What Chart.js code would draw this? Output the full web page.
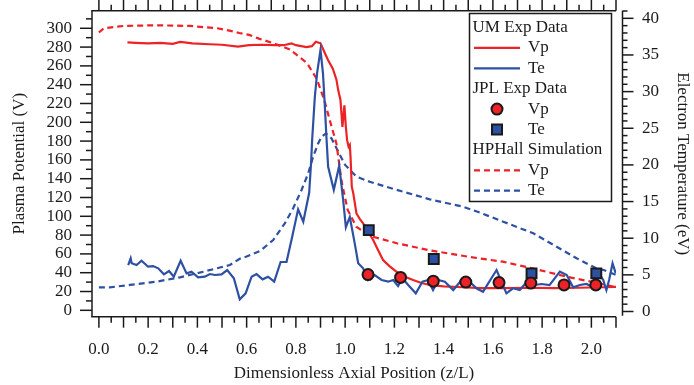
<!DOCTYPE html>
<html>
<head>
<meta charset="utf-8">
<script src="https://cdn.jsdelivr.net/npm/chart.js@4.4.1/dist/chart.umd.min.js"></script>
<style>
html,body{margin:0;padding:0;background:#fff;}
canvas{display:block;}
</style>
</head>
<body>
<canvas id="c" width="694" height="385"></canvas>
<script>
// ---------- DATA ----------
// UM experimental plasma potential (V)
const umVpZ = [0.116,0.15,0.2,0.25,0.3,0.33,0.38,0.45,0.5,0.565,0.61,0.66,0.71,0.75,0.782,0.8,0.843,0.865,0.881,0.9,0.918,0.931,0.95,0.965,0.972,0.981,0.989,0.997,1.003,1.008,1.014,1.019,1.022,1.027,1.033,1.046,1.06,1.073,1.09,1.114,1.13,1.154,1.18,1.209,1.24,1.276,1.31,1.344,1.4,1.479,1.55,1.65,1.75,1.85,1.95,2.05,2.1];
const umVp  = [285,284.5,284,284.5,283.5,285.5,284,283,282.5,280.5,282,282.5,282,282,284,282,280,281,285.7,284,273.4,266,257,245,234,223.7,195,218,195,181,174,176,163,131.5,124.5,103,97,92.6,85,74.8,66,53.5,47,41,36,32.2,29,26.9,25.5,24.5,23.5,23.5,24,23.5,24,24.5,25];
// UM experimental electron temperature (eV)
const umTeZ = [0.119,0.129,0.133,0.153,0.173,0.2,0.22,0.241,0.264,0.285,0.304,0.332,0.356,0.376,0.403,0.43,0.451,0.471,0.498,0.521,0.548,0.572,0.596,0.62,0.64,0.665,0.687,0.712,0.738,0.762,0.785,0.809,0.83,0.854,0.862,0.866,0.877,0.886,0.9,0.91,0.917,0.924,0.931,0.954,0.976,0.992,1.003,1.019,1.039,1.053,1.073,1.093,1.12,1.148,1.175,1.195,1.215,1.233,1.256,1.287,1.314,1.337,1.357,1.378,1.405,1.439,1.473,1.506,1.533,1.56,1.615,1.655,1.682,1.709,1.739,1.77,1.797,1.83,1.872,1.9,1.926,1.953,1.98,2.007,2.027,2.048,2.061,2.072,2.086,2.099];
const umTe  = [6.34,7.26,6.58,6.34,6.93,6.11,6.2,5.89,5.07,5.52,4.75,6.93,5.2,5.43,4.66,4.75,5.11,4.98,5.07,5.66,4.53,1.66,2.48,4.75,5.11,4.39,4.75,4.07,6.75,6.75,10.2,13.94,12.25,16.2,20.5,23.4,29.3,32.5,35.7,32.5,28.4,23.8,19.75,16.6,19.9,15.2,11.5,12.9,9.3,6.58,5.89,4.3,4.98,4.3,4.07,4.3,3.48,4.53,3.62,2.48,4.07,4.3,2.93,4.3,4.07,2.93,4.3,4.07,3.17,2.7,5.66,2.48,3.17,2.93,4.07,3.62,3.75,3.6,5.43,4.98,3.3,3.62,3.75,3.3,5.43,4.3,2.93,4.3,6.58,5.2];
// JPL experimental data
const jplVpZ = [1.093,1.225,1.358,1.49,1.625,1.754,1.889,2.018];
const jplVp  = [38,35,31,30,29.5,29,27,27];
const jplTeZ = [1.096,1.36,1.757,2.02];
const jplTe  = [11.1,7.16,5.2,5.2];
// HPHall simulation
const simVpZ = [0,0.02,0.1,0.23,0.37,0.48,0.53,0.57,0.61,0.65,0.71,0.775,0.845,0.885,0.915,0.94,0.965,0.985,1.01,1.045,1.075,1.11,1.21,1.34,1.5,1.64,1.76,1.9,2.02,2.1];
const simVp  = [295.5,300,302.5,303.2,302.5,300,297.5,295,293,289,284,277.5,263,246,224,200,177,138,107,89,83.5,78.5,71.3,64,57,51.7,44.7,35.7,29.4,24.5];
const simTeZ = [0,0.045,0.126,0.234,0.329,0.424,0.532,0.572,0.6,0.654,0.708,0.755,0.789,0.823,0.85,0.87,0.89,0.904,0.922,0.945,0.972,1.0,1.046,1.1,1.209,1.344,1.479,1.547,1.642,1.764,1.859,1.94,2.02,2.05,2.1];
const simTe  = [3.3,3.3,3.62,4.07,4.66,5.43,6.34,7.2,7.5,8.25,9.75,12.03,14.08,16.58,18.85,21.1,22.9,23.85,24.3,23.6,21.8,20.0,18.4,17.7,16.6,15.3,14.3,13.5,12.25,10.67,8.84,7.26,5.89,5.66,5.0];
// Tick labels
const xTickVals  = [0,0.2,0.4,0.6,0.8,1.0,1.2,1.4,1.6,1.8,2.0];
const yLTickVals = [0,20,40,60,80,100,120,140,160,180,200,220,240,260,280,300];
const yRTickVals = [0,5,10,15,20,25,30,35,40];

// ---------- STYLE ----------
const RED = '#ec2227', BLUE = '#2e50a2', INK = '#1a1a1a';
const FONT = "'Liberation Serif', 'Times New Roman', serif";
Chart.defaults.font.family = FONT;
Chart.defaults.font.size = 17;
Chart.defaults.color = INK;

const pts = (xs, ys) => xs.map((x, i) => ({x, y: ys[i]}));

const axesPlugin = {
  id: 'axesFrame',
  afterDatasetsDraw(chart) {
    const {ctx, chartArea: ca, scales} = chart;
    const xs = scales.x, yl = scales.y, yr = scales.y2;
    const rx = ca.right + 6.5;
    ctx.save();
    ctx.strokeStyle = INK; ctx.lineWidth = 1.5;
    const ln = (a, b, c, d) => { ctx.beginPath(); ctx.moveTo(a, b); ctx.lineTo(c, d); ctx.stroke(); };
    ln(ca.left, ca.top, ca.left, ca.bottom);
    ln(ca.left - 0.75, ca.bottom, ca.right, ca.bottom);
    ln(ca.left - 0.75, ca.top, ca.right, ca.top);
    ln(rx, ca.top, rx, ca.bottom - 1);
    for (let i = 0; i <= 42; i++) {
      const px = xs.getPixelForValue(i * 0.05);
      const L = (i % 2 === 0) ? 11 : 6;
      ln(px, ca.bottom, px, ca.bottom + L);
      ln(px, ca.top, px, ca.top - L);
    }
    for (let v = 0; v <= 310; v += 10) {
      const py = yl.getPixelForValue(v);
      const L = (v % 20 === 0) ? 12 : 6;
      ln(ca.left, py, ca.left - L, py);
    }
    for (let v = 0; v <= 41; v += 1) {
      const py = yr.getPixelForValue(v);
      const L = (v % 5 === 0) ? 11 : 5;
      ln(rx, py, rx + L, py);
    }
    ctx.restore();
  }
};

const legendPlugin = {
  id: 'customLegend',
  afterDraw(chart) {
    const ctx = chart.ctx;
    const bx = 469.5, by = 13.5, bw = 142, bh = 188;
    ctx.save();
    ctx.fillStyle = '#fff';
    ctx.fillRect(bx, by, bw, bh);
    ctx.strokeStyle = INK; ctx.lineWidth = 1.5;
    ctx.strokeRect(bx, by, bw, bh);
    ctx.font = '17px ' + FONT;
    ctx.fillStyle = INK;
    ctx.textBaseline = 'middle';
    const rows = [
      {t: 'UM Exp Data', head: true},
      {t: 'Vp', kind: 'line', c: RED},
      {t: 'Te', kind: 'line', c: BLUE},
      {t: 'JPL Exp Data', head: true},
      {t: 'Vp', kind: 'circle', c: RED},
      {t: 'Te', kind: 'square', c: BLUE},
      {t: 'HPHall Simulation', head: true},
      {t: 'Vp', kind: 'dash', c: RED},
      {t: 'Te', kind: 'dash', c: BLUE}
    ];
    rows.forEach((r, i) => {
      const y = 27.5 + i * 20.4;
      ctx.fillStyle = INK;
      if (r.head) { ctx.fillText(r.t, 472.5, y); return; }
      ctx.fillText(r.t, 528, y);
      if (r.kind === 'line' || r.kind === 'dash') {
        ctx.strokeStyle = r.c; ctx.lineWidth = 2.2;
        ctx.setLineDash(r.kind === 'dash' ? [6, 4] : []);
        ctx.beginPath(); ctx.moveTo(474, y); ctx.lineTo(520, y); ctx.stroke();
        ctx.setLineDash([]);
      } else if (r.kind === 'circle') {
        ctx.beginPath(); ctx.arc(497, y, 5.5, 0, Math.PI * 2);
        ctx.fillStyle = r.c; ctx.fill();
        ctx.strokeStyle = INK; ctx.lineWidth = 2; ctx.stroke();
      } else if (r.kind === 'square') {
        ctx.fillStyle = r.c; ctx.fillRect(492, y - 5, 10, 10);
        ctx.strokeStyle = INK; ctx.lineWidth = 2; ctx.strokeRect(492, y - 5, 10, 10);
      }
    });
    ctx.restore();
  }
};

const lineDS = (label, xs, ys, color, dashed, axis, order) => ({
  label, data: pts(xs, ys), yAxisID: axis, showLine: true,
  borderColor: color, backgroundColor: color, borderWidth: 2.2,
  borderDash: dashed ? [6, 4] : [], pointRadius: 0, tension: 0, order
});

function fixV(w) { return s => { s.width = w; s.paddingTop = 0; s.paddingBottom = 0; }; }

new Chart(document.getElementById('c'), {
  type: 'scatter',
  data: {
    datasets: [
      {label: 'JPL Vp', data: pts(jplVpZ, jplVp), yAxisID: 'y', pointStyle: 'circle', pointRadius: 5.5,
       backgroundColor: RED, borderColor: INK, borderWidth: 2, order: 0},
      {label: 'JPL Te', data: pts(jplTeZ, jplTe), yAxisID: 'y2', pointStyle: 'rect', pointRadius: 7,
       backgroundColor: BLUE, borderColor: INK, borderWidth: 2, order: 0},
      lineDS('UM Vp', umVpZ, umVp, RED, false, 'y', 2),
      lineDS('UM Te', umTeZ, umTe, BLUE, false, 'y2', 1),
      lineDS('Sim Vp', simVpZ, simVp, RED, true, 'y', 3),
      lineDS('Sim Te', simTeZ, simTe, BLUE, true, 'y2', 4)
    ]
  },
  options: {
    responsive: false,
    animation: false,
    layout: {padding: {top: 10.7, left: 0, right: 0, bottom: 0}},
    plugins: {legend: {display: false}, tooltip: {enabled: false}},
    scales: {
      x: {
        type: 'linear', position: 'bottom', min: -0.028, max: 2.1,
        afterFit(s) { s.height = 68.3; s.paddingLeft = 0; s.paddingRight = 0; },
        afterBuildTicks(s) { s.ticks = xTickVals.map(v => ({value: v})); },
        ticks: {callback: v => Number(v).toFixed(1), padding: 15, autoSkip: false, maxRotation: 0, color: INK},
        grid: {display: false}, border: {display: false},
        title: {display: true, text: 'Dimensionless Axial Position (z/L)', color: INK, padding: {top: 0, bottom: 1}}
      },
      y: {
        type: 'linear', position: 'left', min: -6.8, max: 318.7,
        afterFit: fixV(92),
        afterBuildTicks(s) { s.ticks = yLTickVals.map(v => ({value: v})); },
        ticks: {callback: v => String(v), padding: 12, autoSkip: false, color: INK},
        grid: {display: false}, border: {display: false},
        title: {display: true, text: 'Plasma Potential (V)', color: INK, padding: {top: 9, bottom: 0}}
      },
      y2: {
        type: 'linear', position: 'right', min: -0.71, max: 41.04,
        afterFit: fixV(78),
        afterBuildTicks(s) { s.ticks = yRTickVals.map(v => ({value: v})); },
        ticks: {callback: v => String(v), padding: 18, autoSkip: false, color: INK},
        grid: {display: false}, border: {display: false},
        title: {display: true, text: 'Electron Temperature (eV)', color: INK, padding: {top: 1, bottom: 0}}
      }
    }
  },
  plugins: [axesPlugin, legendPlugin]
});
</script>
</body>
</html>
